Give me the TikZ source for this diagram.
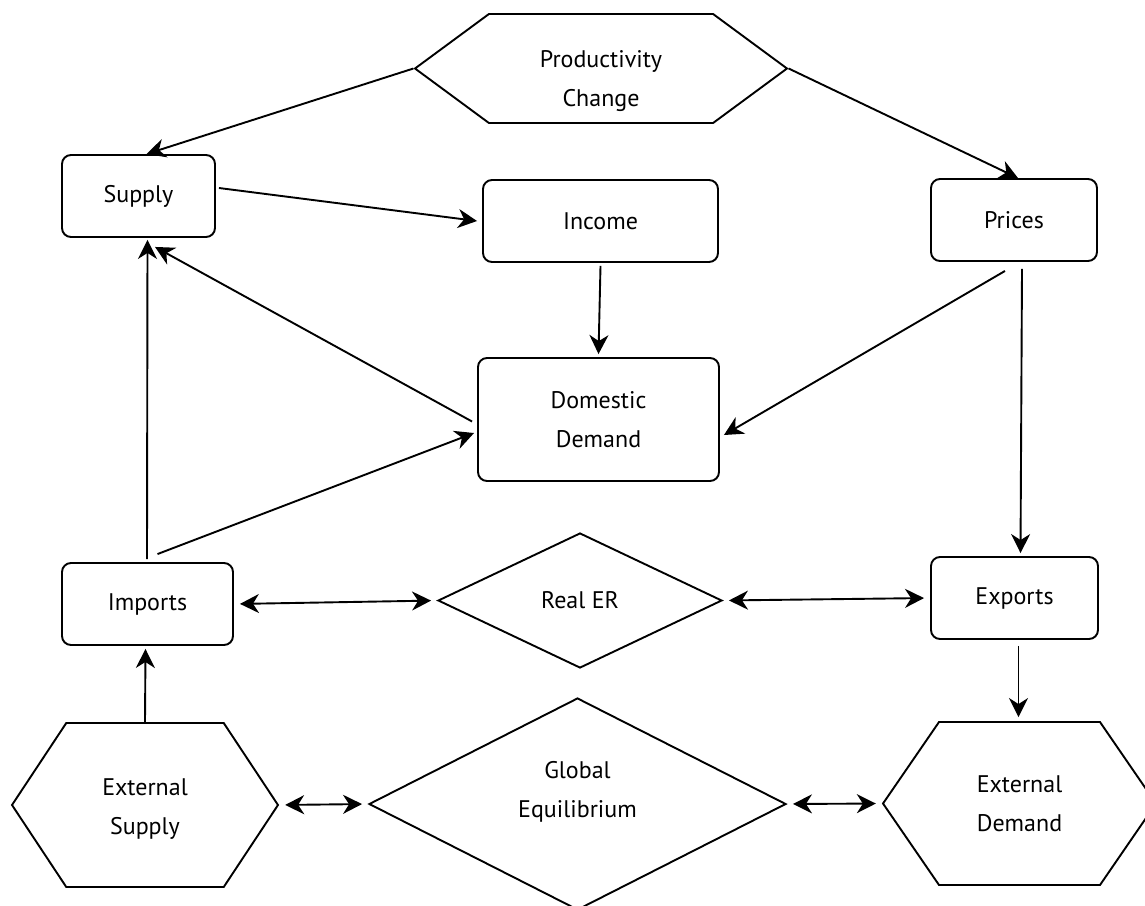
\documentclass[tikz,border=0pt]{standalone}
\usepackage{fontspec}
\setmainfont{PT Sans}
\usetikzlibrary{arrows.meta,shapes.geometric,shapes.symbols}
\definecolor{inkline}{HTML}{000000}

\tikzset{
    txt/.style={align=center, font=\fontsize{24}{39}\selectfont, inner sep=0pt},
    box/.style={txt, draw=inkline, line width=1.9pt, rounded corners=9pt},
    hexa/.style={txt, draw=inkline, line width=1.9pt, signal, signal to=west and east},
    rhomb/.style={txt, draw=inkline, line width=1.9pt, diamond},
    arr/.style={-{Stealth[length=19pt,width=19pt,inset=6pt]}, draw=inkline, line width=1.9pt},
    arrtwo/.style={{Stealth[length=19pt,width=19pt,inset=6pt]}-{Stealth[length=19pt,width=19pt,inset=6pt]}, draw=inkline, line width=1.9pt, shorten <=6pt, shorten >=6pt},
}

\begin{document}
\begin{tikzpicture}[x=1pt, y=-1pt]
    \useasboundingbox (0,0) rectangle (1145,905);

    \node[hexa, minimum width=372pt, minimum height=109pt, signal pointer angle=72.8,
        label={[txt, yshift=-13pt]center:Productivity\\Change}] (prod) at (601,68.5) {};

    \node[box, minimum width=153pt, minimum height=82pt] (supply) at (138.5,196) {Supply};
    \node[box, minimum width=235pt, minimum height=82pt] (income) at (600.5,221) {Income};
    \node[box, minimum width=166pt, minimum height=82pt] (prices) at (1014,220) {Prices};
    \node[box, minimum width=241pt, minimum height=123pt] (dom) at (598.5,419.5) {Domestic\\Demand};
    \node[box, minimum width=171pt, minimum height=82pt] (imports) at (147.5,604) {Imports};
    \node[box, minimum width=167pt, minimum height=82pt] (exports) at (1014.5,598) {Exports};

    \node[rhomb, minimum width=284pt, minimum height=135pt] (realer) at (580,600.5) {Real ER};
    \node[rhomb, minimum width=417pt, minimum height=212pt,
        label={[txt, yshift=12pt]center:Global\\Equilibrium}] (global) at (577.5,804) {};

    \node[hexa, minimum width=266pt, minimum height=164pt, signal pointer angle=113,
        label={[txt, yshift=-4pt]center:External\\Supply}] (extsup) at (145,805) {};
    \node[hexa, minimum width=273pt, minimum height=163pt, signal pointer angle=111] (extdem) at (1019.5,803.5) {External\\Demand};

    % productivity feeds supply and prices
    \draw[arr] (prod.west) -- ([xshift=8pt]supply.north);
    \draw[arr] (prod.east) -- ([xshift=4pt]prices.north);

    \draw[arr] ([xshift=3pt,yshift=8pt]supply.east) -- ([xshift=-5pt]income.west);
    \draw[arr] ([yshift=-3pt]income.south) -- ([yshift=3pt]dom.north);
    \draw[arr] ([xshift=-9pt,yshift=-9pt]prices.south) -- ([xshift=4pt,yshift=-15.5pt]dom.east);
    \draw[arr] ([xshift=8pt,yshift=-7pt]prices.south) -- ([xshift=6pt,yshift=3pt]exports.north);

    \draw[arr] ([xshift=-5pt,yshift=-2pt]dom.west) -- ([xshift=16.5pt,yshift=-9pt]supply.south);
    \draw[arr] ([xshift=-0.5pt,yshift=3pt]imports.north) -- ([xshift=9pt,yshift=-2pt]supply.south);
    \draw[arr] ([xshift=10pt,yshift=8pt]imports.north) -- ([xshift=-3pt,yshift=-13.5pt]dom.west);

    % two-way links
    \foreach \a / \b in {imports/realer, realer/exports, extsup/global, global/extdem}
        \draw[arrtwo] (\a.east) -- (\b.west);

    \draw[arr] (extsup.north) -- ([xshift=-2pt,yshift=-3pt]imports.south);
    \draw[arr] ([xshift=4pt,yshift=-6pt]exports.south) -- ([xshift=-1pt,yshift=4pt]extdem.north);

\end{tikzpicture}
\end{document}
